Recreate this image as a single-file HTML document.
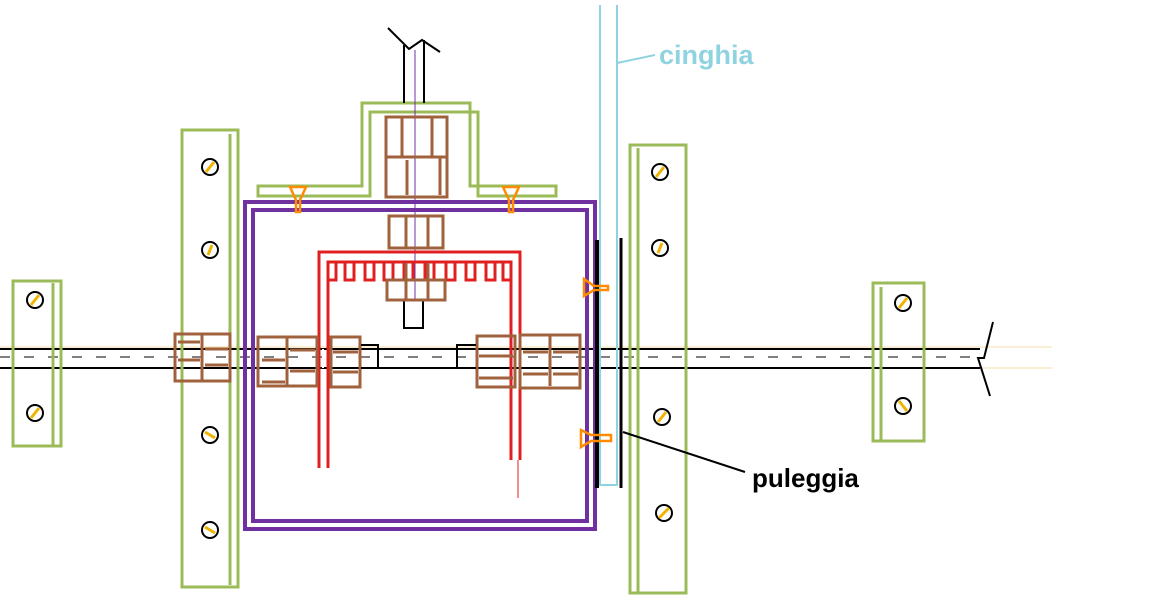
<!DOCTYPE html>
<html><head><style>
html,body{margin:0;padding:0;background:#fff;}
svg{display:block}
text{font-family:"Liberation Sans",sans-serif;font-weight:bold;}
</style></head><body>
<svg width="1167" height="600" viewBox="0 0 1167 600" xmlns="http://www.w3.org/2000/svg">
<g stroke="#f3dfa8" stroke-width="1"><line x1="0" y1="347" x2="1052" y2="347"/><line x1="0" y1="368" x2="1052" y2="368"/></g>
<g stroke="#000" stroke-width="2" fill="none">
<line x1="0" y1="349" x2="980" y2="349"/><line x1="0" y1="368" x2="980" y2="368"/>
<polyline points="993,322 984,358 978,358 990,396"/>
</g>
<line x1="0" y1="357" x2="980" y2="357" stroke="#000" stroke-width="1" stroke-dasharray="10,14"/>
<g fill="none" stroke="#9bbb59" stroke-width="3">
<rect x="13" y="281" width="48" height="165"/><line x1="53" y1="283" x2="53" y2="446"/>
<rect x="182" y="130" width="56" height="457"/><line x1="230" y1="134" x2="230" y2="585"/>
<rect x="630" y="145" width="56" height="448"/><line x1="638" y1="148" x2="638" y2="593"/>
<rect x="873" y="283" width="51" height="158"/><line x1="881" y1="287" x2="881" y2="441"/>
<path d="M258,186 H362 V103 H470 V186 H556 V196 H478 V112 H370 V196 H258 Z"/>
</g>
<g stroke="#000" stroke-width="2" fill="#fff">
<circle cx="35" cy="300" r="8"/><circle cx="35" cy="413" r="8"/>
<circle cx="210" cy="167" r="8"/><circle cx="210" cy="250" r="8"/><circle cx="210" cy="435" r="8"/><circle cx="210" cy="530" r="8"/>
<circle cx="660" cy="172" r="8"/><circle cx="660" cy="248" r="8"/><circle cx="662" cy="417" r="8"/><circle cx="664" cy="513" r="8"/>
<circle cx="903" cy="303" r="8"/><circle cx="903" cy="406" r="8"/>
</g>
<g stroke="#f0b400" stroke-width="3">
<line x1="31" y1="305" x2="39" y2="295"/><line x1="31" y1="418" x2="39" y2="408"/>
<line x1="206" y1="172" x2="214" y2="162"/><line x1="208" y1="255" x2="212" y2="245"/><line x1="205" y1="432" x2="215" y2="438"/><line x1="205" y1="527" x2="215" y2="533"/>
<line x1="656" y1="177" x2="664" y2="167"/><line x1="658" y1="253" x2="662" y2="243"/><line x1="658" y1="422" x2="666" y2="412"/><line x1="659" y1="518" x2="669" y2="508"/>
<line x1="899" y1="308" x2="907" y2="298"/><line x1="899" y1="401" x2="907" y2="411"/>
</g>
<g fill="none" stroke="#7030a0" stroke-width="4">
<rect x="245" y="202" width="350" height="327"/><rect x="253" y="210" width="334" height="311"/>
</g>
<g stroke="#000" stroke-width="2" fill="none">
<line x1="404" y1="45" x2="404" y2="103"/><line x1="424" y1="40" x2="424" y2="103"/>
<polyline points="388,28 409,49 422,40 440,52"/>
<path d="M404,300 V328 H423 V300"/>
</g>
<line x1="415" y1="50" x2="415" y2="300" stroke="#7030a0" stroke-width="1"/>
<g fill="none" stroke="#e02020" stroke-width="3">
<path d="M319,468 V252 H520 V460"/>
<path d="M328,468 V262 H511 V460"/>
<path d="M328,262 v18 h8 v-18 M345,262 v18 h9 v-18 M365,262 v18 h9 v-18 M384,262 v18 h9 v-18 M404,262 v18 h9 v-18 M425,262 v18 h9 v-18 M446,262 v18 h9 v-18 M466,262 v18 h9 v-18 M486,262 v18 h9 v-18 M503,262 v18 h8"/>
<line x1="518" y1="460" x2="518" y2="498" stroke-width="1"/>
</g>
<g stroke="#fff" stroke-width="2" stroke-dasharray="3,5"><line x1="323" y1="285" x2="323" y2="465"/><line x1="515" y1="285" x2="515" y2="458"/></g>
<g fill="none" stroke="#a0623c" stroke-width="3">
<rect x="386" y="117" width="61" height="80"/><line x1="386" y1="157" x2="447" y2="157"/><line x1="402" y1="117" x2="402" y2="157"/><line x1="432" y1="117" x2="432" y2="157"/><line x1="407" y1="160" x2="407" y2="195"/><line x1="440" y1="157" x2="440" y2="195"/>
<rect x="389" y="216" width="54" height="32"/><line x1="406" y1="216" x2="406" y2="248"/><line x1="428" y1="216" x2="428" y2="248"/>
<rect x="387" y="280" width="58" height="20"/><line x1="406" y1="263" x2="406" y2="300"/><line x1="428" y1="263" x2="428" y2="300"/>
<rect x="175" y="334" width="55" height="47"/><line x1="202" y1="334" x2="202" y2="381"/><line x1="178" y1="342" x2="200" y2="342"/><line x1="178" y1="360" x2="200" y2="360"/><line x1="205" y1="349" x2="228" y2="349"/><line x1="205" y1="365" x2="228" y2="365"/>
<rect x="258" y="337" width="59" height="49"/><line x1="287" y1="337" x2="287" y2="386"/><line x1="262" y1="360" x2="285" y2="360"/><line x1="262" y1="382" x2="285" y2="382"/><line x1="290" y1="350" x2="315" y2="350"/><line x1="290" y1="371" x2="315" y2="371"/>
<rect x="331" y="337" width="29" height="50"/><line x1="333" y1="352" x2="358" y2="352"/><line x1="333" y1="372" x2="358" y2="372"/>
<rect x="477" y="336" width="38" height="51"/><line x1="479" y1="356" x2="513" y2="356"/><line x1="479" y1="378" x2="513" y2="378"/>
<rect x="520" y="335" width="60" height="53"/><line x1="550" y1="335" x2="550" y2="386"/><line x1="523" y1="352" x2="548" y2="352"/><line x1="523" y1="374" x2="548" y2="374"/><line x1="553" y1="352" x2="578" y2="352"/><line x1="553" y1="374" x2="578" y2="374"/>
</g>
<g stroke="#000" stroke-width="2" fill="none">
<path d="M361,345 H378 V368 H361"/><path d="M476,345 H457 V368 H476"/>
</g>
<g stroke="#000" fill="none">
<line x1="597" y1="240" x2="597" y2="488" stroke-width="4"/><line x1="621" y1="238" x2="621" y2="488" stroke-width="3"/>
<line x1="623" y1="432" x2="745" y2="472" stroke-width="2"/>
</g>
<g stroke="#8fd3e0" stroke-width="2" fill="none">
<path d="M600,5 V485 H617 V5"/>
<line x1="617" y1="63" x2="655" y2="55"/>
</g>
<g fill="none" stroke="#ff8c00" stroke-width="2.5">
<path d="M290,187 L306,187 L300,200 V212 H296 V200 Z"/>
<path d="M503,187 L519,187 L513,200 V212 H509 V200 Z"/>
<path d="M584,279 L584,296 L594,290 H608 V286 H594 Z"/>
<path d="M581,430 L581,447 L591,441 H611 V435 H591 Z"/>
</g>
<text x="659" y="64" font-size="27" fill="#8fd3e0">cinghia</text>
<text x="752" y="487" font-size="26" fill="#000">puleggia</text>
</svg>
</body></html>
